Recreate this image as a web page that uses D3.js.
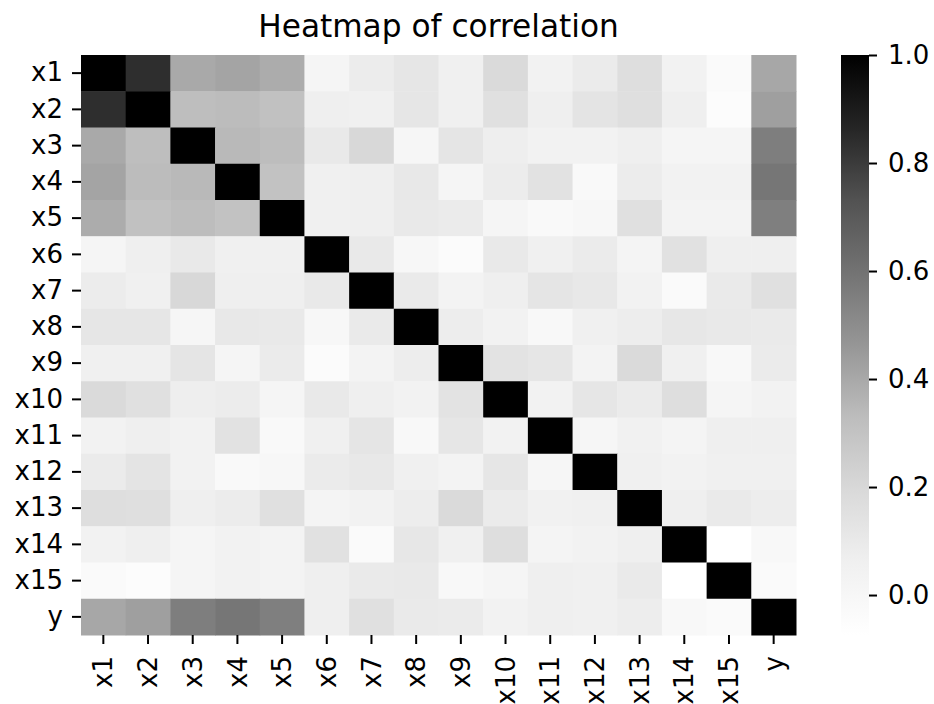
<!DOCTYPE html>
<html>
<head>
<meta charset="utf-8">
<script src="https://cdn.jsdelivr.net/npm/d3@7"></script>
<style>
  body { margin: 0; background: #fff; }
  text { font-family: "DejaVu Sans", sans-serif; }
</style>
</head>
<body>
<div id="heatmap"></div>
<script>
// labels for both axes
const labels = ["x1","x2","x3","x4","x5","x6","x7","x8","x9","x10","x11","x12","x13","x14","x15","y"];

// correlation matrix (rows = y axis, cols = x axis)
const corr = [
  [1, 0.839, 0.398, 0.415, 0.387, 0.015, 0.084, 0.119, 0.062, 0.189, 0.042, 0.089, 0.165, 0.042, -0.029, 0.404],
  [0.839, 1, 0.324, 0.332, 0.310, 0.066, 0.060, 0.119, 0.062, 0.154, 0.066, 0.130, 0.159, 0.066, -0.047, 0.432],
  [0.398, 0.324, 1, 0.343, 0.329, 0.101, 0.199, 0.007, 0.124, 0.072, 0.042, 0.042, 0.066, 0.015, 0.015, 0.555],
  [0.415, 0.332, 0.343, 1, 0.305, 0.060, 0.066, 0.107, 0.015, 0.084, 0.142, -0.020, 0.084, 0.042, 0.042, 0.586],
  [0.387, 0.310, 0.329, 0.305, 1, 0.060, 0.066, 0.101, 0.089, 0.015, -0.020, -0.002, 0.154, 0.033, 0.033, 0.551],
  [0.015, 0.066, 0.101, 0.060, 0.060, 1, 0.101, -0.002, -0.038, 0.101, 0.060, 0.089, 0.024, 0.148, 0.066, 0.066],
  [0.084, 0.060, 0.199, 0.066, 0.066, 0.101, 1, 0.095, 0.033, 0.066, 0.124, 0.107, 0.042, -0.029, 0.095, 0.154],
  [0.119, 0.119, 0.007, 0.107, 0.101, -0.002, 0.095, 1, 0.078, 0.042, -0.011, 0.060, 0.078, 0.113, 0.101, 0.095],
  [0.062, 0.062, 0.124, 0.015, 0.089, -0.038, 0.033, 0.078, 1, 0.136, 0.119, 0.033, 0.189, 0.060, -0.011, 0.089],
  [0.189, 0.154, 0.072, 0.084, 0.015, 0.101, 0.066, 0.042, 0.136, 1, 0.042, 0.119, 0.089, 0.165, 0.015, 0.042],
  [0.042, 0.066, 0.042, 0.142, -0.020, 0.060, 0.124, -0.011, 0.119, 0.042, 1, 0.007, 0.051, 0.028, 0.066, 0.066],
  [0.089, 0.130, 0.042, -0.020, -0.002, 0.089, 0.107, 0.060, 0.033, 0.119, 0.007, 1, 0.060, 0.045, 0.060, 0.060],
  [0.165, 0.159, 0.066, 0.084, 0.154, 0.024, 0.042, 0.078, 0.189, 0.089, 0.051, 0.060, 1, 0.066, 0.095, 0.078],
  [0.042, 0.066, 0.015, 0.042, 0.033, 0.148, -0.029, 0.113, 0.060, 0.165, 0.028, 0.045, 0.066, 1, -0.074, -0.011],
  [-0.029, -0.047, 0.015, 0.042, 0.033, 0.066, 0.095, 0.101, -0.011, 0.015, 0.066, 0.060, 0.095, -0.074, 1, -0.029],
  [0.404, 0.432, 0.555, 0.586, 0.551, 0.066, 0.154, 0.095, 0.089, 0.042, 0.066, 0.060, 0.078, -0.011, -0.029, 1]
];

const cbarTicks = [0.0, 0.2, 0.4, 0.6, 0.8, 1.0];

// matplotlib "Greys" stops
const greys = ["#ffffff","#f0f0f0","#d9d9d9","#bdbdbd","#969696","#737373","#525252","#252525","#000000"];

function drawHeatmap(id) {
    const width = 934;
    const height = 704;
    const margin = { top: 55, right: 138, bottom: 69, left: 81 };
    const fontSize = 26;

    const cells = [];
    corr.forEach((row, i) => row.forEach((v, j) => cells.push({ row: labels[i], col: labels[j], value: v })));

    const vmin = d3.min(cells, d => d.value);
    const vmax = d3.max(cells, d => d.value);

    const color = d3.scaleLinear()
        .domain(greys.map((c, i) => vmin + i / (greys.length - 1) * (vmax - vmin)))
        .range(greys);

    const x = d3.scaleBand().domain(labels)
        .range([margin.left, width - margin.right]);

    const y = d3.scaleBand().domain(labels)
        .range([margin.top, height - margin.bottom]);

    const svg = d3.select(id).append("svg")
        .attr("viewBox", [0, 0, width, height])
        .attr("width", width)
        .attr("height", height);

    svg.append("g")
        .selectAll("rect")
        .data(cells)
        .join("rect")
        .attr("x", d => x(d.col))
        .attr("y", d => y(d.row))
        .attr("width", x.bandwidth() + 0.5)
        .attr("height", y.bandwidth() + 0.5)
        .attr("fill", d => color(d.value));

    // axes, no spines
    svg.append("g")
        .attr("transform", `translate(${margin.left},0)`)
        .call(d3.axisLeft(y).tickSize(9).tickPadding(9))
        .call(g => g.select(".domain").remove())
        .call(g => g.selectAll(".tick line").attr("stroke", "#000").attr("stroke-width", 2))
        .call(g => g.selectAll(".tick text").attr("font-size", fontSize).attr("fill", "#000")
            .attr("font-family", "DejaVu Sans"));

    svg.append("g")
        .attr("transform", `translate(0,${height - margin.bottom})`)
        .call(d3.axisBottom(x).tickSize(9))
        .call(g => g.select(".domain").remove())
        .call(g => g.selectAll(".tick line").attr("stroke", "#000").attr("stroke-width", 2))
        .call(g => g.selectAll(".tick text")
            .attr("font-size", fontSize)
            .attr("fill", "#000")
            .attr("font-family", "DejaVu Sans")
            .attr("transform", "rotate(-90)")
            .attr("text-anchor", "end")
            .attr("x", -21)
            .attr("y", 0)
            .attr("dy", "0.35em"));

    // title
    svg.append("text")
        .attr("x", (margin.left + width - margin.right) / 2)
        .attr("y", 37)
        .attr("text-anchor", "middle")
        .attr("font-size", fontSize * 1.2)
        .attr("fill", "#000")
        .text("Heatmap of correlation");

    // colorbar
    const cbX = 841, cbW = 28;
    const cy = d3.scaleLinear().domain([vmin, vmax])
        .range([height - margin.bottom, margin.top]);

    const grad = svg.append("defs").append("linearGradient")
        .attr("id", "cbgrad")
        .attr("x1", 0).attr("y1", 1).attr("x2", 0).attr("y2", 0);
    grad.selectAll("stop")
        .data(greys)
        .join("stop")
        .attr("offset", (d, i) => i / (greys.length - 1))
        .attr("stop-color", d => d);

    svg.append("rect")
        .attr("x", cbX)
        .attr("y", cy(vmax))
        .attr("width", cbW)
        .attr("height", cy(vmin) - cy(vmax))
        .attr("fill", "url(#cbgrad)");

    svg.append("g")
        .attr("transform", `translate(${cbX + cbW},0)`)
        .call(d3.axisRight(cy).tickValues(cbarTicks).tickFormat(d3.format(".1f")).tickSize(8).tickPadding(11))
        .call(g => g.select(".domain").remove())
        .call(g => g.selectAll(".tick line").attr("stroke", "#000").attr("stroke-width", 2))
        .call(g => g.selectAll(".tick text").attr("font-size", fontSize).attr("fill", "#000")
            .attr("font-family", "DejaVu Sans"));
}

drawHeatmap("#heatmap");
</script>
</body>
</html>
